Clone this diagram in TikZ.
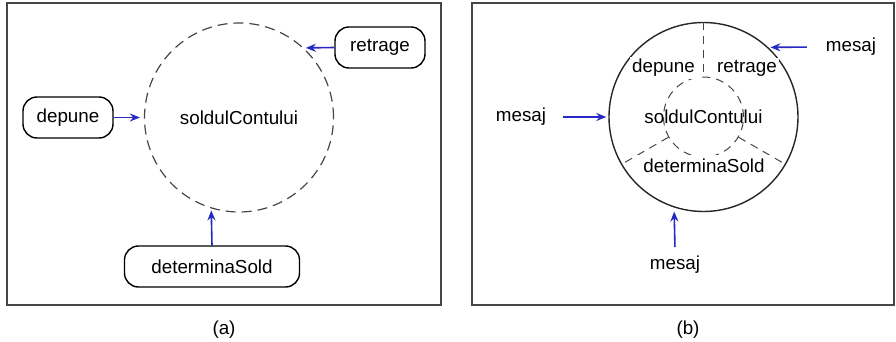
\documentclass[tikz,border=0pt]{standalone}
\usepackage{fontspec}
\setmainfont{Liberation Sans}
\usepackage{tikz}
\usetikzlibrary{arrows.meta}
\usetikzlibrary{positioning}
\usepackage{xcolor}
\definecolor{msgblue}{RGB}{40,40,195}
\definecolor{framegray}{RGB}{70,70,70}
\tikzset{
opbox/.style={draw,
  rounded corners=7pt,
    line width=0.7pt,
    minimum height=20.5pt,
    inner sep=0pt},
lbl/.style={fill=white,
  inner sep=1pt},
}
\tikzset{msg/.style={-{Stealth[length=5pt,width=4pt]},draw=msgblue,line width=0.8pt}}
\tikzset{frame/.style={draw=framegray,line width=0.6pt}}
\tikzset{split/.style={draw=framegray,dashed,dash pattern=on 4pt off 3pt,line width=0.5pt}}

\begin{document}
\begin{tikzpicture}[x=0.5pt,y=-0.5pt,font=\fontsize{9.4}{11}\selectfont]
    \useasboundingbox (0,0) rectangle (896,342);

    % (a): operations outside the data
    \draw [frame] (7,3) rectangle (441,305);
    \node [circle, draw=framegray, dashed, dash pattern=on 5pt off 3pt, line width=0.6pt, minimum size=94.5pt, inner sep=0pt] (soldA) at (239,117.5) {soldulContului};
    \node [opbox, minimum width=45pt] (depA) at (68,117.5) {depune};
    \node [opbox, minimum width=45pt] (retA) at (380,47.5) {retrage};
    \node [opbox, minimum width=87.5pt] (detA) at (212,266.5) {determinaSold};

  \draw [msg, shorten >=2pt] (depA.east) -- (soldA.west);
  \draw [msg, shorten >=1pt] (retA.west) -- (soldA.47.4);
  \draw [msg, shorten >=1pt] (detA.north) -- (soldA.253.5);

    \node (capA) at (224,330) {(a)};

    % (b): data wrapped by the operations
    \draw [frame] (472,3) rectangle (894,305);
    \node [circle, draw=black!85, line width=0.7pt, minimum size=94.5pt, inner sep=0pt] (outB) at (703.5,117) {};
    \node [circle, split, minimum size=40pt, inner sep=0pt] (inB) at (703.5,117) {};
    \node (soldB) at (703.5,117) {soldulContului};

  \draw [split] (outB.90) -- (inB.90);
  \draw [split] (inB.210) -- (outB.210);
  \draw [split] (inB.330) -- (outB.330);

    \node [lbl] (depB) at (663.5,68) {depune};
    \node [lbl] (retB) at (747,68) {retrage};
    \node [lbl, inner xsep=4pt, inner ysep=2pt] (detB) at (704,166) {determinaSold};

    \node (msgL) at (521,117) {mesaj};
    \node (msgR) at (851,47) {mesaj};
    \node (msgB) at (675,265) {mesaj};

  \draw [msg, shorten <=5pt, shorten >=1pt] (msgL.east) -- (outB.west);
  \draw [msg, shorten <=6pt, shorten >=1pt] (msgR.west) -- (outB.47.3);
  \draw [msg, shorten <=1pt, shorten >=2pt] (msgB.north) -- (outB.252.4);

    \node (capB) at (688,330) {(b)};
  \end{tikzpicture}
\end{document}
